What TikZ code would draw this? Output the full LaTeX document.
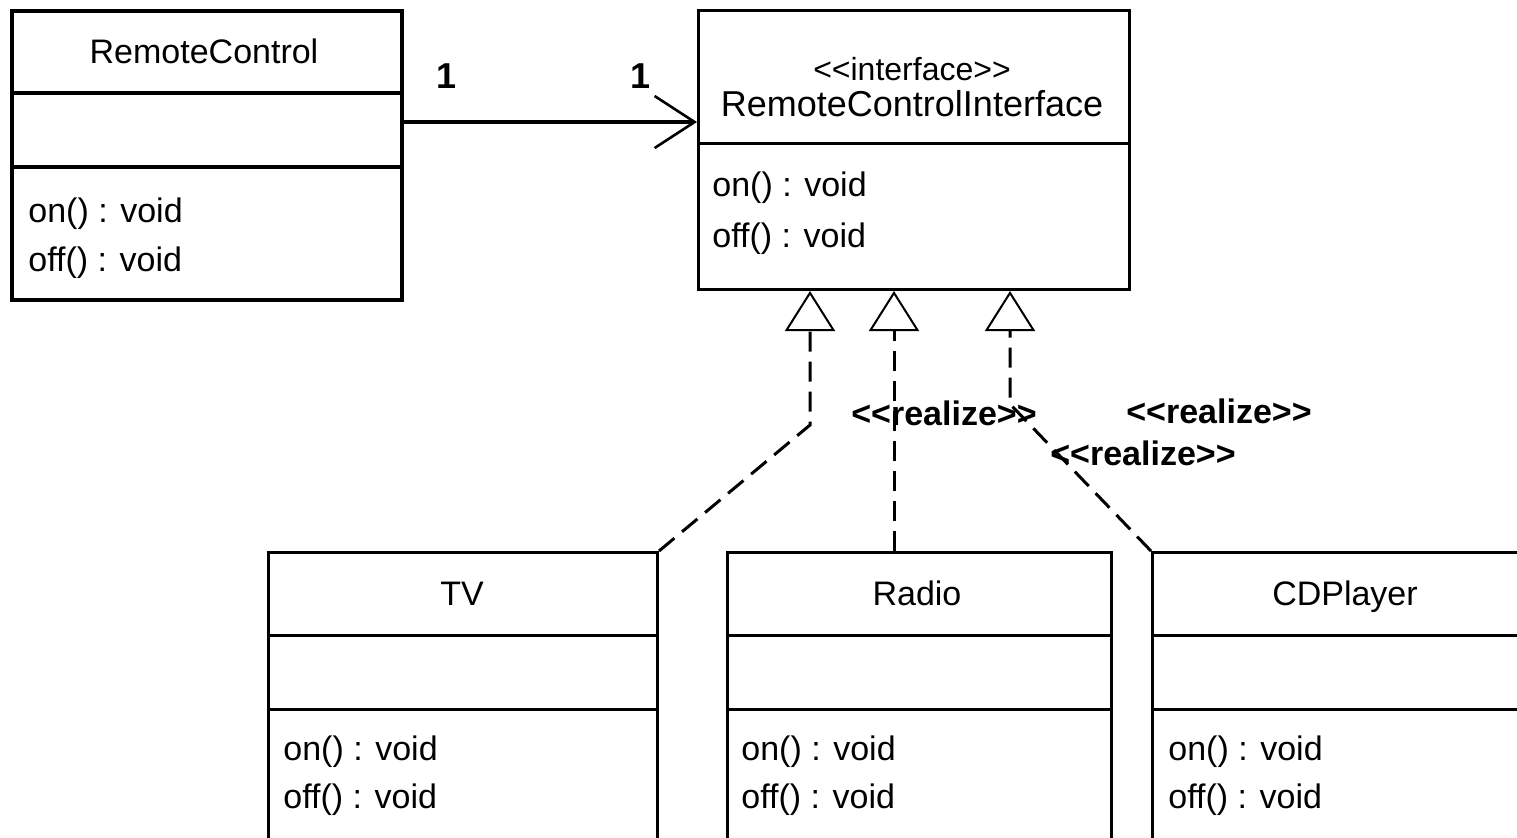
\documentclass[tikz,border=0pt]{standalone}
\usepackage{fontspec}
\setmainfont{Liberation Sans}
\usetikzlibrary{arrows.meta}
\newcommand{\stopen}{\mbox{<}\mbox{<}}
\newcommand{\stclose}{\mbox{>}\mbox{>}}
\begin{document}
\begin{tikzpicture}[x=0.5pt,y=-0.5pt,
  umlbox/.style={draw, line width=1.5pt, rectangle, anchor=north west, inner sep=0pt},
  thickbox/.style={umlbox, line width=2.2pt},
  divider/.style={line width=1.5pt},
  cname/.style={anchor=base, inner sep=0pt, font=\fontsize{17}{20}\selectfont},
  iname/.style={anchor=base, inner sep=0pt, font=\fontsize{16}{20}\selectfont},
  meth/.style={anchor=base west, inner sep=0pt, font=\fontsize{17}{20}\selectfont},
  stereo/.style={anchor=base, inner sep=0pt, font=\bfseries\fontsize{17}{20}\selectfont},
  mult/.style={anchor=base, inner sep=0pt, font=\bfseries\fontsize{18}{20}\selectfont},
  realize/.style={line width=1.5pt, dash pattern=on 10pt off 5pt,
    -{Triangle[open,length=20pt,width=25pt,line width=1pt]}},
  assoc/.style={line width=2pt, -{Straight Barb[length=20pt,width=26pt,line width=1.3pt]}}
]
\useasboundingbox (0,0) rectangle (1517,837);
\fill[white] (0,0) rectangle (1517,837);
\clip (0,0) rectangle (1517,837);

% RemoteControl
\node[thickbox, minimum width=195pt, minimum height=144.5pt] (rc) at (10,9) {};
\draw[line width=2pt] (rc.west |- 0,93) -- (rc.east |- 0,93);
\draw[line width=2pt] (rc.west |- 0,167) -- (rc.east |- 0,167);
\node[cname] (rcname) at (204,63) {RemoteControl};
\node[meth] (rcon) at (28,222) {on() : void};
\node[meth] (rcoff) at (28,271) {off() : void};

% Interface
\node[umlbox, minimum width=215.5pt, minimum height=139.5pt] (rci) at (697,9) {};
\draw[divider] (rci.west |- 0,143) -- (rci.east |- 0,143);
\node[iname] (rcist) at (912,80) {\stopen interface\stclose};
\node[cname, font=\fontsize{18}{20}\selectfont] (rciname) at (912,116) {RemoteControlInterface};
\node[meth] (rcion) at (712,196) {on() : void};
\node[meth] (rcioff) at (712,247) {off() : void};

% TV
\node[umlbox, minimum width=194.5pt, minimum height=174.5pt] (tv) at (267,551) {};
\draw[divider] (tv.west |- 0,635) -- (tv.east |- 0,635);
\draw[divider] (tv.west |- 0,709) -- (tv.east |- 0,709);
\node[cname] (tvname) at (462,605) {TV};
\node[meth] (tvon) at (283,760) {on() : void};
\node[meth] (tvoff) at (283,808) {off() : void};

% Radio
\node[umlbox, minimum width=192pt, minimum height=174.5pt] (radio) at (726,551) {};
\draw[divider] (radio.west |- 0,635) -- (radio.east |- 0,635);
\draw[divider] (radio.west |- 0,709) -- (radio.east |- 0,709);
\node[cname] (radioname) at (917,605) {Radio};
\node[meth] (radioon) at (741,760) {on() : void};
\node[meth] (radiooff) at (741,808) {off() : void};

% CDPlayer
\node[umlbox, minimum width=194.5pt, minimum height=174.5pt] (cd) at (1151,551) {};
\draw[divider] (cd.west |- 0,635) -- (cd.east |- 0,635);
\draw[divider] (cd.west |- 0,709) -- (cd.east |- 0,709);
\node[cname] (cdname) at (1345,605) {CDPlayer};
\node[meth] (cdon) at (1168,760) {on() : void};
\node[meth] (cdoff) at (1168,808) {off() : void};

% association
\coordinate (ay) at (0,122);
\draw[assoc] (rc.east |- ay) -- (rci.west |- ay);
\node[mult] (m1) at (447,88) {1};
\node[mult] (m2) at (641,88) {1};

% realizations
\coordinate (b1) at (810,425);
\coordinate (b2) at (894,551);
\coordinate (b3) at (1010,404);
\draw[realize] (tv.north east) -- (b1) -- (b1 |- rci.south);
\draw[realize] (b2 |- radio.north) -- (b2 |- rci.south);
\draw[realize] (cd.north west) -- (b3) -- (b3 |- rci.south);

\node[stereo] (r1) at (944,425) {\stopen realize\stclose};
\node[stereo] (r2) at (1219,423) {\stopen realize\stclose};
\node[stereo] (r3) at (1143,465) {\stopen realize\stclose};
\end{tikzpicture}
\end{document}
